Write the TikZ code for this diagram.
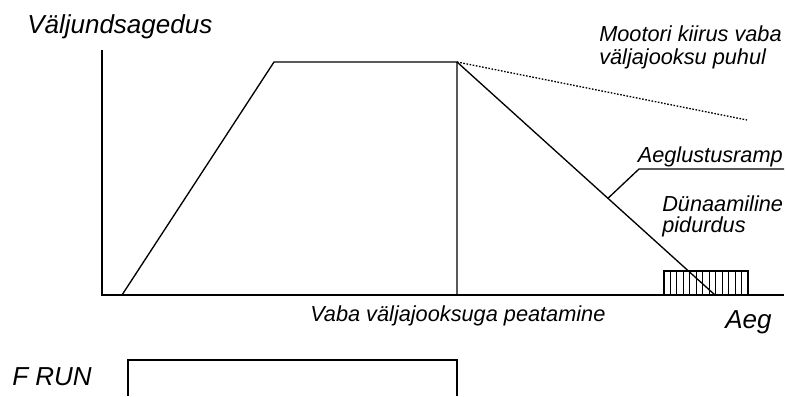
\documentclass[tikz,border=0pt]{standalone}
\usepackage{fontspec}
\setmainfont{Liberation Sans}
\usetikzlibrary{calc}

\tikzset{
  axisline/.style={line width=1.5pt, black},
  trace/.style={line width=1pt, black},
  biglabel/.style={font=\fontsize{19.5}{23}\selectfont\itshape, inner sep=0pt},
  smalllabel/.style={font=\fontsize{16.3}{17.5}\selectfont\itshape, inner sep=0pt, align=left}
}

\begin{document}
\begin{tikzpicture}[x=0.75pt, y=-0.75pt]

\useasboundingbox (0,0) rectangle (787,396);

%% Axes
\coordinate (orig)  at (102,295);
\coordinate (ytop)  at (102,50);
\coordinate (xend)  at (784,295);
\draw[axisline] (ytop) -- (orig) -- (xend);

%% Speed profile
\coordinate (rampstart) at (122,295);
\coordinate (topleft)   at (274,62);
\coordinate (stop)      at (457,62);
\coordinate (stopfoot)  at (457,295);
\coordinate (rampend)   at (715,295);
\coordinate (coastend)  at (747,120);
\draw[trace] (rampstart) -- (topleft) -- (stop) -- (stopfoot);
\draw[trace] (stop) -- (rampend);
\draw[trace, dash pattern=on 1.2pt off 1.2pt] (stop) -- (coastend);

%% Leader to ramp label
\coordinate (leadfoot) at ($(stop)!0.585!(rampend)$);
\coordinate (leadknee) at (639,169);
\coordinate (leadend)  at (784,169);
\draw[trace] (leadfoot) -- (leadknee) -- (leadend);

%% Dynamic braking window
\draw[line width=0.8pt] (664,271) rectangle (748,295);
\foreach \i in {1,...,12}
  \draw[line width=0.8pt] ({664+\i*84/13},271) -- ({664+\i*84/13},295);

%% F RUN signal
\draw[trace] (128,396) -- (128,360) -- (457,360) -- (457,396);

%% Labels
\node[biglabel, anchor=base west] (yname) at (27,33) {Väljundsagedus};
\node[biglabel, anchor=base west] (xname) at (725,328) {Aeg};
\node[biglabel, anchor=base west] (frun)  at (12,385) {F RUN};

\node[smalllabel, anchor=base west] (coast1) at (599,41) {Mootori kiirus vaba};
\node[smalllabel, anchor=base west] (coast2) at (599,64) {väljajooksu puhul};
\node[smalllabel, anchor=base east] (ramplbl) at (783,162) {Aeglustusramp};
\node[smalllabel, anchor=base west] (dyn1) at (662,211) {Dünaamiline};
\node[smalllabel, anchor=base west] (dyn2) at (662,232) {pidurdus};
\node[smalllabel, anchor=base west] (freestop) at (310,321) {Vaba väljajooksuga peatamine};

\end{tikzpicture}
\end{document}
